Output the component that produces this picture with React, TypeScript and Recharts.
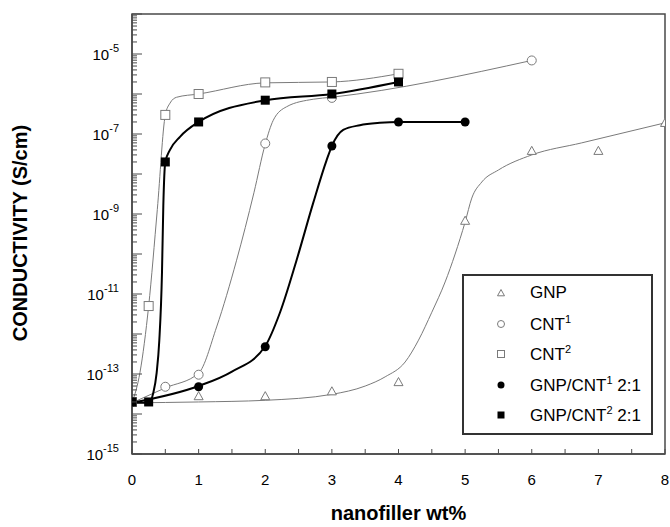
import {
  ComposedChart,
  Legend,
  Line,
  ReferenceArea,
  Scatter,
  XAxis,
  YAxis,
} from "recharts";

// measured points
const gnpX = [0, 1, 2, 3, 4, 5, 6, 7, 8];
const gnpY = [2e-14, 2.8e-14, 2.8e-14, 3.7e-14, 6.3e-14, 6.8e-10, 3.8e-8, 3.8e-8, 1.9e-7];

const cnt1X = [0, 0.5, 1, 2, 3, 6];
const cnt1Y = [2e-14, 4.8e-14, 9.6e-14, 5.8e-8, 8e-7, 6.9e-6];

const cnt2X = [0, 0.25, 0.5, 1, 2, 3, 4];
const cnt2Y = [2e-14, 5e-12, 3e-7, 1e-6, 1.95e-6, 2e-6, 3.2e-6];

const hyb1X = [0, 1, 2, 3, 4, 5];
const hyb1Y = [2e-14, 4.8e-14, 4.8e-13, 5e-8, 2e-7, 2e-7];

const hyb2X = [0, 0.25, 0.5, 1, 2, 3, 4];
const hyb2Y = [2e-14, 2e-14, 2e-8, 2e-7, 7e-7, 1e-6, 2e-6];

// fitted curves
const gnpFitX = [0, 1, 2, 3, 3.5, 3.8, 4.1, 4.3, 4.5, 4.7, 4.85, 5, 5.1, 5.25, 5.5, 6, 6.75, 8];
const gnpFitY = [1.9e-14, 2e-14, 2.2e-14, 3.1e-14, 5e-14, 8.5e-14, 2e-13, 7e-13, 3.5e-12, 2e-11, 1e-10, 6.3e-10, 2.5e-9, 6.3e-9, 1.26e-8, 3e-8, 6e-8, 1.9e-7];

const cnt1FitX = [0, 0.5, 1, 1.27, 1.57, 1.83, 2, 2.12, 2.32, 2.72, 3, 6];
const cnt1FitY = [1.9e-14, 4.5e-14, 1.05e-13, 1.5e-12, 7e-11, 3.4e-9, 5.6e-8, 2.2e-7, 4.8e-7, 7.4e-7, 8.3e-7, 6.9e-6];

const cnt2FitX = [0, 0.12, 0.25, 0.38, 0.5, 0.57, 0.67, 1, 2, 3, 4];
const cnt2FitY = [1.9e-14, 1.1e-13, 5e-12, 1.3e-9, 3e-7, 5.9e-7, 8.3e-7, 1e-6, 1.9e-6, 2e-6, 3.2e-6];

const hyb1FitX = [0, 1, 1.5, 2, 2.22, 2.47, 2.72, 2.92, 3, 3.17, 3.42, 3.72, 4, 5];
const hyb1FitY = [1.9e-14, 5e-14, 1.15e-13, 5e-13, 3.4e-12, 7e-11, 1.9e-9, 2.2e-8, 5e-8, 1.26e-7, 1.66e-7, 1.9e-7, 2e-7, 2e-7];

const hyb2FitX = [0, 0.25, 0.32, 0.37, 0.41, 0.45, 0.47, 0.5, 0.57, 0.72, 1, 2, 3, 4];
const hyb2FitY = [1.9e-14, 1.9e-14, 3.4e-14, 1.07e-13, 7e-13, 3.4e-11, 1.6e-9, 2e-8, 4e-8, 8.5e-8, 2e-7, 7e-7, 1e-6, 2e-6];

const seriesNames = ["GNP", "CNT1", "CNT2", "GNP/CNT1 2:1", "GNP/CNT2 2:1"];
const seriesShapes = ["triangle", "circle", "square", "dot", "block"];

const xTicks = [0, 0.5, 1, 1.5, 2, 2.5, 3, 3.5, 4, 4.5, 5, 5.5, 6, 6.5, 7, 7.5, 8];

const yTicks: number[] = [];
for (let e = -15; e <= -5; e++) {
  for (let m = 1; m <= 9; m++) yTicks.push(m * Math.pow(10, e));
}
yTicks.push(1e-4);

const pts = (xs: number[], ys: number[]) => xs.map((x, i) => ({ x, y: ys[i] }));

const GREY = "#7a7a7a";
const AXIS = "#4a4a4a";
const FONT = "'Liberation Sans', Arial, sans-serif";

function Marker({ cx, cy, kind, s = 4.5 }: { cx: number; cy: number; kind: string; s?: number }) {
  if (cx == null || cy == null) return null;
  switch (kind) {
    case "triangle":
      return (
        <polygon
          points={`${cx},${cy - s} ${cx - s},${cy + s * 0.8} ${cx + s},${cy + s * 0.8}`}
          fill="#fff"
          stroke={GREY}
          strokeWidth={1}
        />
      );
    case "circle":
      return <circle cx={cx} cy={cy} r={s} fill="#fff" stroke={GREY} strokeWidth={1} />;
    case "square":
      return <rect x={cx - s} y={cy - s} width={2 * s} height={2 * s} fill="#fff" stroke={GREY} strokeWidth={1} />;
    case "dot":
      return <circle cx={cx} cy={cy} r={s} fill="#000" />;
    default:
      return <rect x={cx - s} y={cy - s} width={2 * s} height={2 * s} fill="#000" />;
  }
}

function YTick({ x, y, payload }: any) {
  const v = payload.value as number;
  const e = Math.round(Math.log10(v));
  const major = Math.abs(v / Math.pow(10, e) - 1) < 1e-6;
  return (
    <g>
      <line x1={x} x2={x + (major ? 10 : 5)} y1={y} y2={y} stroke={AXIS} strokeWidth={1} />
      {major && e % 2 !== 0 && (
        <text x={x - 13} y={y + 6} textAnchor="end" fontSize={15} fill="#000" fontFamily={FONT}>
          10
          <tspan dy={-8} fontSize={11}>
            {e}
          </tspan>
        </text>
      )}
    </g>
  );
}

function XTick({ x, y, payload }: any) {
  const v = payload.value as number;
  return (
    <g>
      <line x1={x} x2={x} y1={y} y2={y - 5} stroke={AXIS} strokeWidth={1} />
      {Number.isInteger(v) && (
        <text x={x} y={y + 31} textAnchor="middle" fontSize={15} fill="#000" fontFamily={FONT}>
          {v}
        </text>
      )}
    </g>
  );
}

function LegendBox() {
  return (
    <div
      style={{
        width: 187,
        height: 155,
        border: "2px solid #333",
        background: "#fff",
        fontFamily: FONT,
        fontSize: 17,
        color: "#000",
        boxSizing: "content-box",
        paddingTop: 2,
      }}
    >
      {seriesNames.map((name, i) => {
        const m = name.match(/^(.*CNT)(\d)(.*)$/);
        return (
          <div key={name} style={{ display: "flex", alignItems: "center", height: 30.5 }}>
            <svg width={66} height={20} style={{ flex: "none" }}>
              <Marker cx={37} cy={10} kind={seriesShapes[i]} s={3.5} />
            </svg>
            <span>
              {m ? (
                <>
                  {m[1]}
                  <sup style={{ fontSize: 11, verticalAlign: 7 }}>{m[2]}</sup>
                  {m[3]}
                </>
              ) : (
                name
              )}
            </span>
          </div>
        );
      })}
    </div>
  );
}

export default function App() {
  const fits = [
    { d: pts(gnpFitX, gnpFitY), c: GREY, w: 1 },
    { d: pts(cnt1FitX, cnt1FitY), c: GREY, w: 1 },
    { d: pts(cnt2FitX, cnt2FitY), c: GREY, w: 1 },
    { d: pts(hyb1FitX, hyb1FitY), c: "#000", w: 2 },
    { d: pts(hyb2FitX, hyb2FitY), c: "#000", w: 2 },
  ];
  const marks = [
    pts(gnpX, gnpY),
    pts(cnt1X, cnt1Y),
    pts(cnt2X, cnt2Y),
    pts(hyb1X, hyb1Y),
    pts(hyb2X, hyb2Y),
  ];

  return (
    <div style={{ position: "absolute", left: 0, top: 0, background: "#fff" }}>
      <ComposedChart width={670} height={527} margin={{ top: 14, right: 5, bottom: 0, left: 0 }}>
        <XAxis
          type="number"
          dataKey="x"
          domain={[0, 8]}
          ticks={xTicks}
          interval={0}
          tickSize={0}
          tickMargin={0}
          tickLine={false}
          tick={<XTick />}
          height={73}
          axisLine={{ stroke: AXIS, strokeWidth: 1.5 }}
          allowDataOverflow
        />
        <YAxis
          type="number"
          dataKey="y"
          scale="log"
          domain={[1e-15, 1e-4]}
          ticks={yTicks}
          interval={0}
          tickSize={0}
          tickMargin={0}
          tickLine={false}
          tick={<YTick />}
          width={132}
          axisLine={{ stroke: AXIS, strokeWidth: 1.5 }}
          allowDataOverflow
        />
        <ReferenceArea x1={0} x2={8} y1={1e-15} y2={1e-4} fill="none" stroke={AXIS} strokeWidth={1.5} />
        {fits.map((f, i) => (
          <Line
            key={"fit" + i}
            data={f.d}
            dataKey="y"
            type="monotoneX"
            stroke={f.c}
            strokeWidth={f.w}
            dot={false}
            activeDot={false}
            isAnimationActive={false}
            legendType="none"
          />
        ))}
        {marks.map((d, i) => (
          <Scatter
            key={"pt" + i}
            name={seriesNames[i]}
            data={d}
            isAnimationActive={false}
            shape={(p: any) => <Marker cx={p.cx} cy={p.cy} kind={seriesShapes[i]} />}
          />
        ))}
        <Legend
          layout="horizontal"
          align="center"
          verticalAlign="middle"
          wrapperStyle={{ left: 462, top: 274, width: 191, height: 159 }}
          content={() => <LegendBox />}
        />
      </ComposedChart>
      <svg width={670} height={527} style={{ position: "absolute", left: 0, top: 0, pointerEvents: "none" }}>
        <text
          transform="translate(27,233) rotate(-90)"
          textAnchor="middle"
          fontSize={20}
          fontWeight="bold"
          fontFamily={FONT}
        >
          CONDUCTIVITY (S/cm)
        </text>
        <text x={398.5} y={520} textAnchor="middle" fontSize={20} fontWeight="bold" fontFamily={FONT}>
          nanofiller wt%
        </text>
      </svg>
    </div>
  );
}
